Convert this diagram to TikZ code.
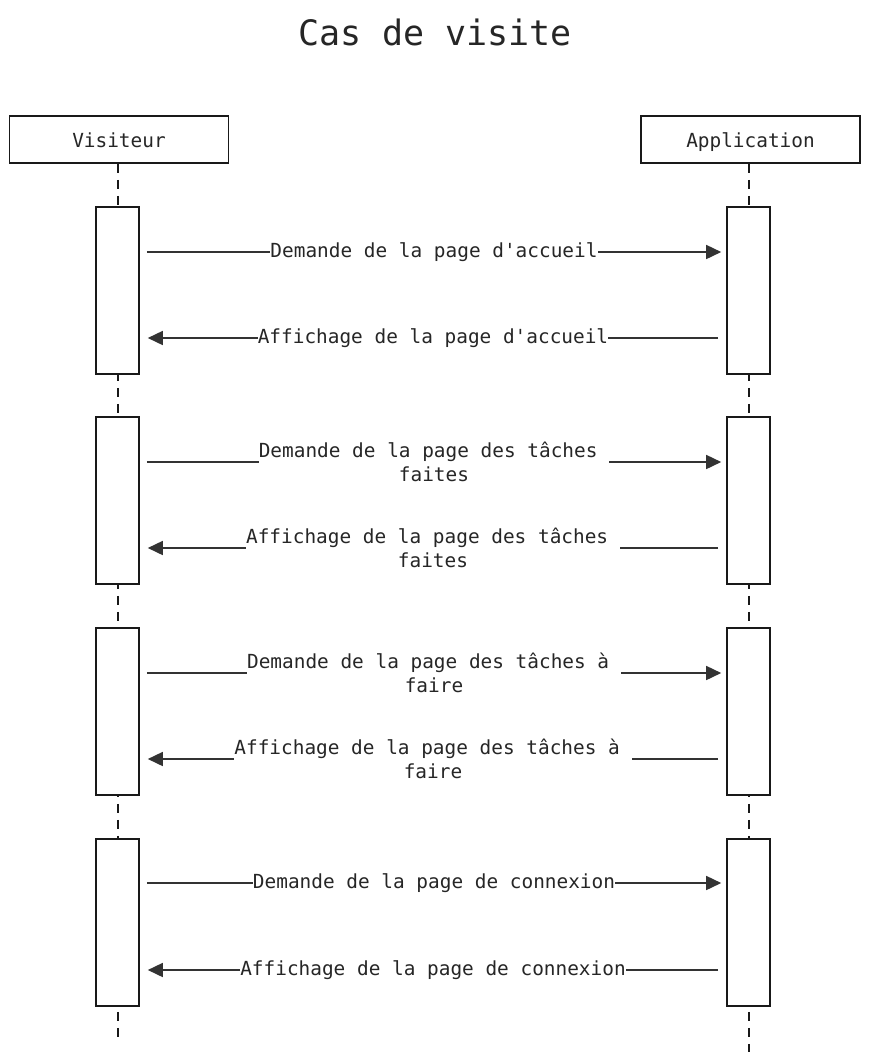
\documentclass[tikz,border=0pt]{standalone}
\usepackage{fontspec}
\setmonofont{DejaVu Sans Mono}
\usetikzlibrary{arrows.meta,positioning}

\begin{document}
\begin{tikzpicture}[x=1pt,y=-1pt,line width=1.6pt,
every node/.style={font=\ttfamily\fontsize{19.4}{24}\selectfont,text=black!85},
actor/.style={draw=black!90,minimum width=219pt,minimum height=47pt,inner sep=0pt,text height=15pt,text depth=0pt},
act/.style={draw=black!90,fill=white,minimum width=43pt,minimum height=167pt,inner sep=0pt},
life/.style={draw=black!90,dash pattern=on 9pt off 7pt},
msg/.style={draw=black!80,-{Triangle[length=15pt,width=14pt]}},
lbl/.style={fill=white,inner sep=0pt,align=center}]
\useasboundingbox (0,0) rectangle (870,1061);
\node (title) at (435,32) [font=\ttfamily\fontsize{35}{40}\selectfont] {Cas de visite};
\node (vis) at (119,139.5) [actor] {Visiteur};
\node (app) at (750.5,139.5) [actor] {Application};
\coordinate (visend) at (118,1037);
\coordinate (append) at (749,1052);
\draw[life] (vis.south -| visend) -- (visend);
\draw[life] (app.south -| append) -- (append);
% activations
\node (v1) at (117.5,290.5) [act] {};
\node (v2) at (117.5,500.5) [act] {};
\node (v3) at (117.5,711.5) [act] {};
\node (v4) at (117.5,922.5) [act] {};
\node (a1) at (748.5,290.5) [act] {};
\node (a2) at (748.5,500.5) [act] {};
\node (a3) at (748.5,711.5) [act] {};
\node (a4) at (748.5,922.5) [act] {};
% messages
\draw[msg] ([xshift=7pt]v1.east |- 0,252) -- ([xshift=-5pt]a1.west |- 0,252) node[midway,lbl] {Demande de la page d'accueil};
\draw[msg] ([xshift=-8pt]a1.west |- 0,338) -- ([xshift=8pt]v1.east |- 0,338) node[midway,lbl] {Affichage de la page d'accueil};
\draw[msg] ([xshift=7pt]v2.east |- 0,462) -- ([xshift=-5pt]a2.west |- 0,462) node[midway,lbl] {Demande de la page des tâches\phantom{x}\\faites};
\draw[msg] ([xshift=-8pt]a2.west |- 0,548) -- ([xshift=8pt]v2.east |- 0,548) node[midway,lbl] {Affichage de la page des tâches\phantom{x}\\faites};
\draw[msg] ([xshift=7pt]v3.east |- 0,673) -- ([xshift=-5pt]a3.west |- 0,673) node[midway,lbl] {Demande de la page des tâches à\phantom{x}\\faire};
\draw[msg] ([xshift=-8pt]a3.west |- 0,759) -- ([xshift=8pt]v3.east |- 0,759) node[midway,lbl] {Affichage de la page des tâches à\phantom{x}\\faire};
\draw[msg] ([xshift=7pt]v4.east |- 0,883) -- ([xshift=-5pt]a4.west |- 0,883) node[midway,lbl] {Demande de la page de connexion};
\draw[msg] ([xshift=-8pt]a4.west |- 0,970) -- ([xshift=8pt]v4.east |- 0,970) node[midway,lbl] {Affichage de la page de connexion};
\end{tikzpicture}
\end{document}
